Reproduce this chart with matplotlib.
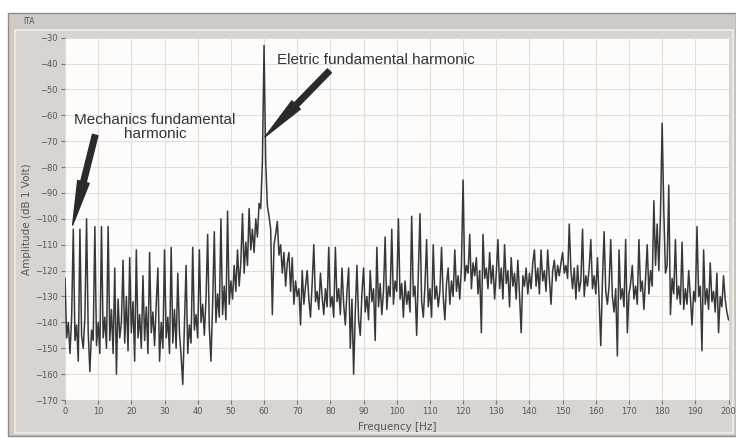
import matplotlib
matplotlib.use("Agg")
import matplotlib.pyplot as plt
import numpy as np
from matplotlib.patches import Rectangle

# spectrum, one value every 0.5 Hz (dB re 1 V)
step_hz = 0.5
amp_db = [
    # 0 - 9.5 Hz
    -123, -146, -140, -152, -138, -104, -147, -141, -155, -104,
    -145, -150, -138, -100, -144, -159, -143, -147, -103, -149,
    # 10 - 19.5
    -140, -152, -103, -146, -138, -150, -103, -147, -135, -152,
    -119, -160, -131, -146, -140, -116, -148, -130, -151, -115,
    # 20 - 29.5
    -144, -132, -155, -112, -146, -137, -150, -122, -147, -134,
    -152, -113, -144, -136, -149, -133, -119, -155, -140, -150,
    # 30 - 39.5
    -112, -146, -138, -152, -111, -148, -135, -150, -121, -144,
    -153, -164, -141, -118, -152, -141, -148, -111, -143, -137,
    # 40 - 49.5
    -146, -112, -140, -133, -145, -131, -106, -142, -155, -133,
    -105, -140, -129, -138, -100, -137, -126, -139, -97, -133,
    # 50 - 59.5
    -124, -131, -118, -128, -112, -126, -117, -98, -121, -109,
    -118, -96, -112, -104, -113, -100, -107, -94, -96, -78,
    # 60 - 69.5
    -33, -78, -95, -99, -104, -137, -110, -106, -101, -114,
    -110, -121, -113, -126, -117, -113, -128, -115, -133, -124,
    # 70 - 79.5
    -130, -127, -141, -120, -133, -126, -120, -131, -138, -125,
    -110, -132, -128, -135, -121, -130, -137, -127, -134, -111,
    # 80 - 89.5
    -134, -130, -138, -111, -132, -127, -137, -119, -133, -141,
    -128, -119, -150, -131, -160, -136, -118, -139, -145, -129,
    # 90 - 99.5
    -119, -136, -130, -139, -120, -132, -127, -147, -111, -134,
    -125, -137, -128, -107, -135, -126, -130, -104, -133, -124,
    # 100 - 109.5
    -128, -100, -131, -125, -138, -124, -133, -128, -136, -99,
    -130, -126, -145, -121, -98, -132, -138, -126, -108, -134,
    # 110 - 119.5
    -127, -138, -110, -131, -126, -134, -128, -111, -130, -139,
    -125, -119, -133, -124, -130, -112, -128, -122, -131, -118,
    # 120 - 129.5
    -85, -124, -118, -121, -106, -127, -117, -122, -115, -129,
    -120, -144, -106, -123, -119, -127, -113, -125, -118, -131,
    # 130 - 139.5
    -121, -108, -127, -119, -131, -110, -125, -120, -134, -115,
    -126, -121, -131, -116, -129, -144, -122, -126, -119, -129,
    # 140 - 149.5
    -121, -127, -117, -112, -126, -119, -129, -112, -124, -120,
    -128, -112, -123, -133, -120, -116, -124, -118, -122, -117,
    # 150 - 159.5
    -113, -121, -118, -123, -102, -120, -127, -119, -131, -118,
    -128, -124, -104, -130, -122, -126, -119, -108, -127, -122,
    # 160 - 169.5
    -129, -115, -131, -149, -124, -105, -128, -133, -126, -108,
    -130, -136, -127, -153, -112, -131, -127, -134, -108, -144,
    # 170 - 179.5
    -129, -125, -118, -131, -126, -133, -108, -128, -124, -135,
    -123, -110, -129, -120, -126, -93, -118, -102, -120, -98,
    # 180 - 189.5
    -63, -97, -121, -118, -87, -137, -123, -129, -108, -131,
    -126, -133, -109, -135, -127, -133, -120, -130, -141, -128,
    # 190 - 200
    -132, -103, -130, -126, -151, -112, -133, -127, -135, -117,
    -132, -128, -136, -121, -144, -130, -134, -122, -131, -136,
    -139,
]
freq_hz = np.arange(len(amp_db)) * step_hz

x_ticks = np.arange(0, 201, 10)
y_ticks = np.arange(-170, -29, 10)

W, H = 736, 438
fig = plt.figure(figsize=(W / 100, H / 100), dpi=100)
fig.patch.set_facecolor("white")


def px_rect(x0, y0, x1, y1, **kw):
    # rectangle given in picture pixels (origin top-left)
    return Rectangle((x0 / W, 1 - y1 / H), (x1 - x0) / W, (y1 - y0) / H,
                     transform=fig.transFigure, **kw)


# LabVIEW-like grey panel
fig.add_artist(px_rect(8, 13, 736, 436, facecolor="#cfcac6",
                       edgecolor="#8f8a86", linewidth=1.0, zorder=0))
fig.add_artist(px_rect(15, 30, 733, 433, facecolor="#d8d4d0",
                       edgecolor="#ebe7e3", linewidth=1.5, zorder=0))
fig.text(23 / W, 1 - 22 / H, "ITA", fontsize=5.5, color="#555555",
         va="center", ha="left")

ax = fig.add_axes([65 / W, 1 - 400 / H, (728.5 - 65) / W, (400 - 37.7) / H])
ax.set_facecolor("#fdfcfb")
ax.plot(freq_hz, amp_db, color="#383838", linewidth=1.1, zorder=3)

ax.set_xlim(0, 200)
ax.set_ylim(-170, -30)
ax.set_xticks(x_ticks)
ax.set_yticks(y_ticks)
ax.grid(True, color="#e2dedc", linewidth=0.8)
ax.set_axisbelow(True)
for s in ax.spines.values():
    s.set_visible(False)
ax.tick_params(axis="both", labelsize=6, colors="#7a7572", labelcolor="#5a5552",
               length=3, width=0.8, pad=2)

ax.set_xlabel("Frequency [Hz]", fontsize=7.5, color="#5a5552", labelpad=4)
ax.set_ylabel("Amplitude (dB 1 Volt)", fontsize=7.5, color="#5a5552", labelpad=2)

# annotations
txt_kw = dict(fontsize=11, color="#333333", family="Liberation Sans")
ax.text(27.1, -64.7, "Mechanics fundamental\nharmonic", ha="center", va="center",
        linespacing=1.0, **txt_kw)
ax.text(63.8, -38.6, "Eletric fundamental harmonic", ha="left", va="center", **txt_kw)

arrow = dict(arrowstyle="simple,head_length=3.2,head_width=0.85,tail_width=0.4",
             color="#2a2a2a", shrinkA=0, shrinkB=0)
ax.annotate("", xy=(2.3, -102.4), xytext=(9.1, -67.6), arrowprops=arrow, zorder=5)
ax.annotate("", xy=(60.3, -68.3), xytext=(79.7, -42.8), arrowprops=arrow, zorder=5)

fig.savefig("out.png", dpi=100)
